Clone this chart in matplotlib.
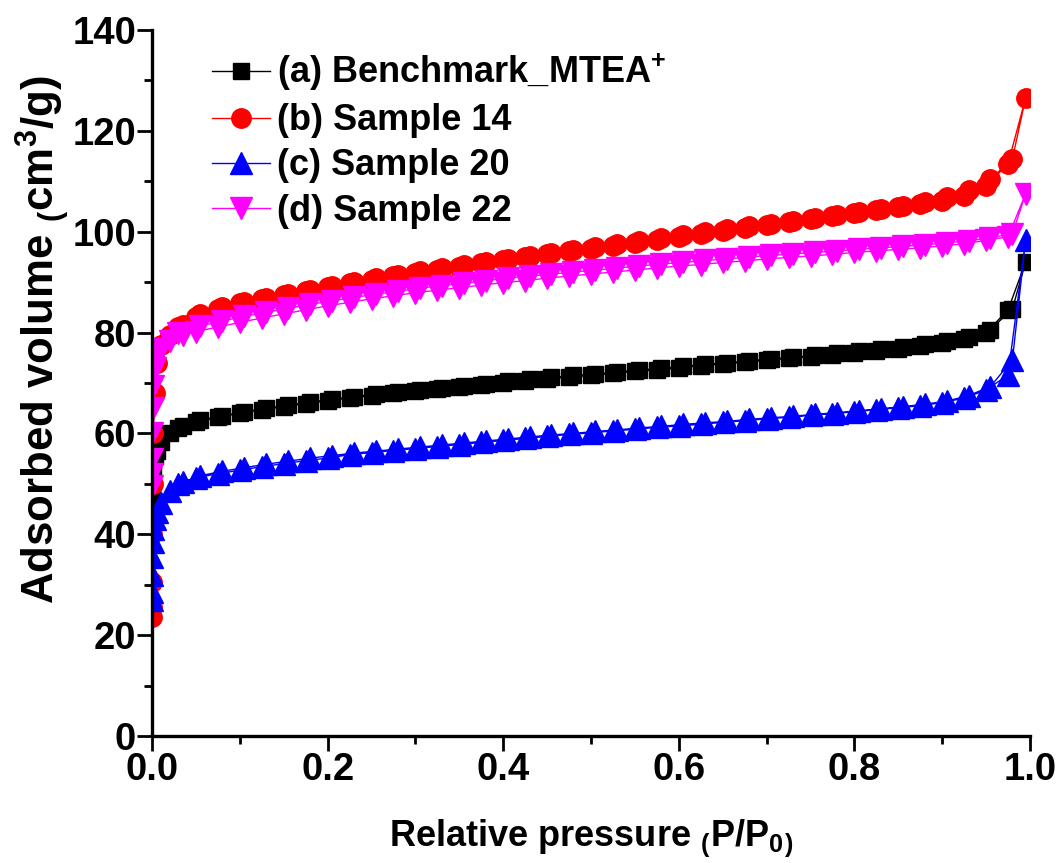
"""N2 adsorption-desorption isotherms of the benchmark and three samples."""

import matplotlib

matplotlib.use("Agg")
import matplotlib.pyplot as plt

plt.rcParams["font.family"] = ["Liberation Sans", "DejaVu Sans"]
plt.rcParams["font.weight"] = "bold"
plt.rcParams["mathtext.fontset"] = "custom"
plt.rcParams["mathtext.rm"] = "Liberation Sans:bold"
plt.rcParams["mathtext.it"] = "Liberation Sans:bold"
plt.rcParams["mathtext.bf"] = "Liberation Sans:bold"

# relative pressure points, adsorption branch (up) and desorption branch (down)
P_ADS = [
    0.00002, 0.00005, 0.0001, 0.0003, 0.0007, 0.0015, 0.003, 0.006, 0.01,
    0.02, 0.035, 0.05, 0.075, 0.10, 0.125, 0.15, 0.175, 0.20, 0.225, 0.25,
    0.275, 0.30, 0.325, 0.35, 0.375, 0.40, 0.425, 0.45, 0.475, 0.50, 0.525,
    0.55, 0.575, 0.60, 0.625, 0.65, 0.675, 0.70, 0.725, 0.75, 0.775, 0.80,
    0.825, 0.85, 0.875, 0.90, 0.925, 0.95, 0.975, 0.995,
]
P_DES = [
    0.98, 0.955, 0.93, 0.905, 0.88, 0.855, 0.83, 0.805, 0.78, 0.755, 0.73,
    0.705, 0.68, 0.655, 0.63, 0.605, 0.58, 0.555, 0.53, 0.505, 0.48, 0.455,
    0.43, 0.405, 0.38, 0.355, 0.33, 0.305, 0.28, 0.255, 0.23, 0.205, 0.18,
    0.155, 0.13, 0.105, 0.08, 0.055, 0.03,
]

# adsorbed volume, cm3/g
BENCH_ADS = [
    47.0, 48.5, 50.0, 51.5, 53.0, 54.5, 55.5, 56.5, 58.3, 60.0, 61.5, 62.3,
    63.2, 64.0, 64.7, 65.3, 65.9, 66.5, 67.0, 67.5, 68.0, 68.4, 68.8, 69.2,
    69.6, 70.0, 70.4, 70.8, 71.2, 71.5, 71.9, 72.3, 72.6, 73.0, 73.4, 73.8,
    74.1, 74.5, 74.9, 75.2, 75.6, 76.0, 76.4, 76.8, 77.3, 77.9, 78.7, 80.0,
    84.5, 94.0,
]
BENCH_DES = [
    84.7, 80.6, 79.2, 78.3, 77.7, 77.2, 76.7, 76.3, 75.9, 75.5, 75.1, 74.8,
    74.4, 74.0, 73.7, 73.3, 72.9, 72.6, 72.2, 71.8, 71.5, 71.1, 70.7, 70.3,
    69.9, 69.5, 69.1, 68.7, 68.3, 67.8, 67.3, 66.8, 66.2, 65.6, 65.0, 64.3,
    63.5, 62.6, 61.0,
]
S14_ADS = [
    23.5, 25.5, 30.5, 40.0, 50.0, 60.0, 68.0, 74.0, 77.5, 79.5, 81.5, 83.0,
    84.6, 85.8, 86.6, 87.4, 88.2, 89.0, 89.8, 90.5, 91.2, 91.9, 92.5, 93.1,
    93.7, 94.3, 94.9, 95.5, 96.1, 96.6, 97.2, 97.8, 98.4, 99.0, 99.6, 100.2,
    100.8, 101.3, 101.9, 102.5, 103.1, 103.7, 104.3, 104.9, 105.4, 106.0,
    107.0, 109.0, 113.5, 126.5,
]
S14_DES = [
    114.5, 110.4, 108.2, 106.9, 105.9, 105.2, 104.6, 104.0, 103.4, 102.8,
    102.2, 101.6, 101.1, 100.5, 99.9, 99.3, 98.7, 98.1, 97.5, 97.0, 96.4,
    95.8, 95.2, 94.6, 94.0, 93.4, 92.8, 92.2, 91.5, 90.8, 90.1, 89.3, 88.5,
    87.7, 86.9, 86.1, 85.0, 83.6, 81.2,
]
S20_ADS = [
    27.0, 28.5, 32.0, 35.5, 38.5, 41.0, 43.0, 44.5, 46.2, 48.5, 50.3, 51.2,
    52.0, 52.7, 53.4, 54.0, 54.6, 55.1, 55.8, 56.2, 56.6, 57.0, 57.4, 57.8,
    58.2, 58.6, 59.0, 59.4, 59.8, 60.1, 60.5, 60.8, 61.2, 61.5, 61.8, 62.2,
    62.5, 62.9, 63.2, 63.6, 63.9, 64.3, 64.7, 65.1, 65.5, 66.1, 67.0, 68.6,
    71.6, 98.4,
]
S20_DES = [
    74.6, 69.3, 67.5, 66.4, 65.8, 65.3, 64.9, 64.5, 64.1, 63.8, 63.4, 63.1,
    62.8, 62.4, 62.1, 61.8, 61.4, 61.1, 60.7, 60.4, 60.0, 59.7, 59.3, 58.9,
    58.5, 58.1, 57.7, 57.3, 56.9, 56.5, 56.1, 55.6, 55.1, 54.5, 53.9, 53.2,
    52.5, 51.6, 50.0,
]
S22_ADS = [
    49.5, 52.0, 55.0, 60.0, 65.0, 69.5, 73.0, 75.5, 76.8, 78.3, 79.5, 80.2,
    81.1, 82.0, 82.9, 83.7, 84.5, 85.3, 86.0, 86.7, 87.3, 87.9, 88.4, 88.9,
    89.4, 89.9, 90.3, 90.8, 91.2, 91.6, 92.0, 92.4, 92.8, 93.2, 93.5, 93.9,
    94.2, 94.6, 94.9, 95.2, 95.5, 95.9, 96.2, 96.5, 96.8, 97.2, 97.6, 98.3,
    99.0, 107.5,
]
S22_DES = [
    99.6, 98.8, 98.2, 97.8, 97.4, 97.1, 96.8, 96.5, 96.2, 95.9, 95.6, 95.3,
    95.0, 94.6, 94.3, 93.9, 93.6, 93.2, 92.8, 92.4, 92.0, 91.6, 91.2, 90.8,
    90.3, 89.8, 89.3, 88.8, 88.2, 87.6, 87.0, 86.3, 85.6, 84.8, 84.0, 83.2,
    82.3, 81.3, 80.0,
]

LABELS = [
    r"(a) Benchmark_MTEA$^{+}$",
    "(b) Sample 14",
    "(c) Sample 20",
    "(d) Sample 22",
]

series = [
    (BENCH_ADS, BENCH_DES, "black", "s", 11.5),
    (S14_ADS, S14_DES, "red", "o", 14),
    (S20_ADS, S20_DES, "blue", "^", 15.5),
    (S22_ADS, S22_DES, "magenta", "v", 15.5),
]

fig = plt.figure(figsize=(10.6, 8.63), dpi=100)
ax = fig.add_axes([0.1434, 0.1472, 0.8283, 0.818])

for (ads, des, color, marker, size), label in zip(series, LABELS):
    ax.plot(
        P_ADS + P_DES,
        ads + des,
        color=color,
        lw=1.0,
        marker=marker,
        ms=size,
        mec=color,
        mfc=color,
        label=label,
    )

ax.set_xlim(0, 1.0)
ax.set_ylim(0, 140)
ax.set_xticks([0.0, 0.2, 0.4, 0.6, 0.8, 1.0])
ax.set_xticks([0.1, 0.3, 0.5, 0.7, 0.9], minor=True)
ax.set_yticks(range(0, 141, 20))
ax.set_yticks(range(10, 140, 20), minor=True)
ax.xaxis.set_major_formatter(matplotlib.ticker.FormatStrFormatter("%.1f"))

for side in ("top", "right"):
    ax.spines[side].set_visible(False)
for side in ("left", "bottom"):
    ax.spines[side].set_linewidth(2.4)

ax.tick_params(which="major", direction="out", length=10.5, width=2.0,
               labelsize=27.5, pad=1)
ax.tick_params(which="minor", direction="out", length=5.5, width=2.0)
for lbl in ax.get_xticklabels() + ax.get_yticklabels():
    lbl.set_fontweight("bold")

ax.set_xlabel(r"Relative pressure $_{(}$P/P$_{0}$$_{)}$", fontsize=26,
              fontweight="bold", labelpad=21)
ax.set_ylabel(r"Adsorbed volume $_{(}$cm$^{3}$/g)", fontsize=31.5,
              fontweight="bold")
ax.yaxis.set_label_coords(-0.092, 0.561)

ax.legend(
    loc="upper left",
    bbox_to_anchor=(0.04, 1.005),
    frameon=False,
    numpoints=1,
    handlelength=1.6,
    handletextpad=0.2,
    labelspacing=0.28,
    borderpad=0.2,
    prop={"size": 26, "weight": "bold"},
)

fig.savefig("out.png", dpi=100)
